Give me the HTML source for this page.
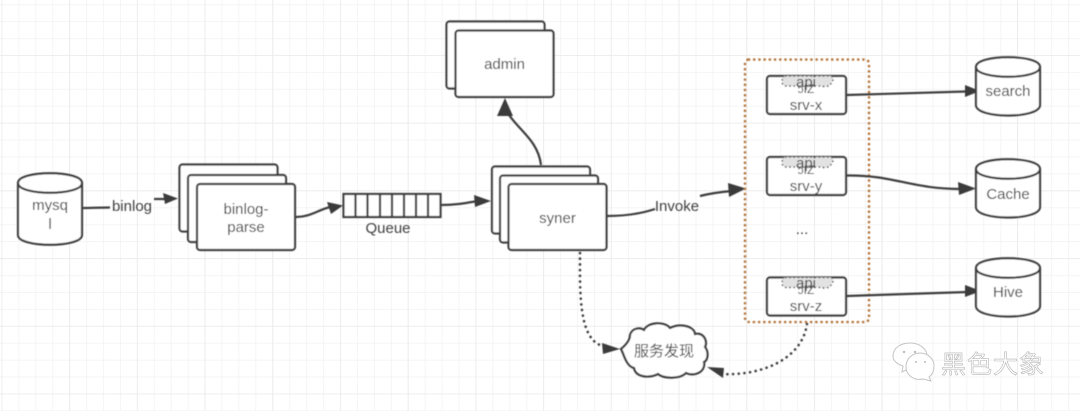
<!DOCTYPE html>
<html><head><meta charset="utf-8">
<style>
html,body{margin:0;padding:0;background:#fff;width:1080px;height:411px;overflow:hidden}
svg{display:block}
text{font-family:"Liberation Sans","Noto Sans CJK SC",sans-serif;font-size:15px;fill:#404040;text-anchor:middle}
.b{fill:#fff;stroke:#3c3c3c;stroke-width:2.2}
.l{fill:none;stroke:#3c3c3c;stroke-width:2.2}
.d{fill:none;stroke:#3c3c3c;stroke-width:2.6;stroke-linecap:round;stroke-dasharray:0.1 5.6}
.a{fill:#3a3a3a}
.c{fill:#e2e2e2;stroke:#555;stroke-width:1.6;stroke-dasharray:1.6 2.6}
</style></head><body>
<svg width="1080" height="411" viewBox="0 0 1080 411" xmlns="http://www.w3.org/2000/svg">
<defs>
<pattern id="g1" x="1.5" y="4.2" width="16.93" height="16.93" patternUnits="userSpaceOnUse">
<path d="M0 0V16.93M0 0H16.93" stroke="#f2f2f2" stroke-width="1.5" fill="none"/>
</pattern>
<pattern id="g2" x="1.5" y="55" width="67.7" height="67.7" patternUnits="userSpaceOnUse">
<path d="M0 0V67.7M0 0H67.7" stroke="#ebebeb" stroke-width="1.6" fill="none"/>
</pattern>
<filter id="s" x="-2%" y="-2%" width="104%" height="104%"><feGaussianBlur stdDeviation="0.45"/></filter>
</defs>
<rect width="1080" height="411" fill="#fff"/>
<rect width="1080" height="411" fill="url(#g1)"/>
<rect width="1080" height="411" fill="url(#g2)"/>
<g filter="url(#s)">

<!-- mysql -->
<path class="b" d="M18 183C18 170 82 170 82 183V235C82 248 18 248 18 235Z"/>
<path class="l" d="M18 183C18 196 82 196 82 183"/>
<text x="50" y="210">mysq</text><text x="50" y="229">l</text>
<path class="l" d="M83 208C92 208 100 207.500 110 207.500"/>
<text x="132" y="211">binlog</text>
<path class="l" d="M154 199H165"/><polygon class="a" points="178,198.500 163,193 165,204"/>

<!-- binlog stack -->
<rect class="b" x="179.500" y="164.500" width="98" height="67" rx="3"/>
<rect class="b" x="188" y="175" width="98" height="67" rx="3"/>
<rect class="b" x="197" y="184" width="98" height="66" rx="3"/>
<text x="246" y="214">binlog-</text><text x="246" y="232">parse</text>
<path class="l" d="M296 217C310 217 318 210 330 207"/><polygon class="a" points="343,205.500 327,202 331,214"/>

<!-- Queue -->
<rect class="b" x="343.500" y="194" width="97" height="23"/>
<path class="l" d="M355.500 194V217M367.500 194V217M380 194V217M392 194V217M404 194V217M416 194V217M428 194V217"/>
<text x="388" y="233">Queue</text>
<path class="l" d="M441 205C456 205 466 203 478 201"/><polygon class="a" points="491,201 474,195 475,207"/>

<!-- syner stack -->
<rect class="b" x="492" y="166.500" width="98" height="67" rx="3"/>
<rect class="b" x="500" y="175.500" width="98" height="67" rx="3"/>
<rect class="b" x="508.500" y="184" width="98" height="66" rx="3"/>
<text x="557.500" y="223">syner</text>

<!-- admin -->
<rect class="b" x="446.500" y="21.500" width="98" height="67" rx="3"/>
<rect class="b" x="455.500" y="30.500" width="98" height="66.500" rx="3"/>
<text x="504.500" y="69">admin</text>
<path class="l" d="M541 165C538 140 518 130 507 112"/><polygon class="a" points="505,98 497,116 513,116"/>

<!-- invoke -->
<path class="l" d="M607 216C625 216 640 214 655 209"/>
<text x="677" y="211">Invoke</text>
<path class="l" d="M700 196C712 193 720 192 732 191"/><polygon class="a" points="746,188.500 728,183 729,197"/>

<!-- srv boxes -->
<rect class="b" x="767" y="76" width="79" height="38" rx="3"/>
<rect class="b" x="767" y="157" width="79" height="38" rx="3"/>
<rect class="b" x="767" y="277.500" width="79" height="38" rx="3"/>
<g>
<path class="c" d="M785 76H830C834 76 834 81 831 82C832 87 824 87 820 86H790C783 87 781 83 783 81C781 79 782 76 785 76Z"/>
<path class="c" d="M785 157H830C834 157 834 162 831 163C832 168 824 168 820 167H790C783 168 781 164 783 162C781 160 782 157 785 157Z"/>
<path class="c" d="M785 277.500H830C834 277.500 834 282.500 831 283.500C832 288.500 824 288.500 820 287.500H790C783 288.500 781 284.500 783 282.500C781 280.500 782 277.500 785 277.500Z"/>
</g>
<text x="806" y="87">api</text><text x="806" y="93" style="font-size:12px">ɔIZ</text><text x="806" y="110">srv-x</text>
<text x="806" y="168">api</text><text x="806" y="174" style="font-size:12px">ɔIZ</text><text x="806" y="191">srv-y</text>
<text x="806" y="288">api</text><text x="806" y="294" style="font-size:12px">ɔIZ</text><text x="806" y="311">srv-z</text>
<text x="802" y="234">...</text>

<!-- orange dotted box -->
<rect x="745" y="59.500" width="124" height="262.500" rx="4" fill="none" stroke="#b5763c" stroke-width="2.6" stroke-linecap="round" stroke-dasharray="0.1 5.1"/>

<!-- outgoing arrows -->
<path class="l" d="M847 95L966 91.500"/><polygon class="a" points="980,91 965,85 965,97"/>
<path class="l" d="M847 175.500C895 175 910 189 962 189"/><polygon class="a" points="976,188.500 958,182 959,195"/>
<path class="l" d="M847 296L968 292"/><polygon class="a" points="981,291 965,285 965,297"/>

<!-- cylinders -->
<path class="b" d="M976 67C976 54 1040 54 1040 67V105C1040 119 976 119 976 105Z"/>
<path class="l" d="M976 67C976 80 1040 80 1040 67"/>
<text x="1008" y="96">search</text>
<path class="b" d="M976 169C976 156 1040 156 1040 169V207C1040 221 976 221 976 207Z"/>
<path class="l" d="M976 169C976 182 1040 182 1040 169"/>
<text x="1008" y="199">Cache</text>
<path class="b" d="M976 268C976 255 1040 255 1040 268V306C1040 320 976 320 976 306Z"/>
<path class="l" d="M976 268C976 281 1040 281 1040 268"/>
<text x="1008" y="297">Hive</text>

<!-- cloud -->
<path class="b" d="M621 349C626 345 630 340 630 335C632 328 640 327 644 330C648 322 664 321 670 328C680 323 694 326 695 334C704 332 708 342 705 347C709 352 708 360 704 362C706 372 694 377 686 373C680 379 664 379 658 374C650 378 636 378 634 368C626 366 624 354 621 349Z"/>
<text x="664" y="356">服务发现</text>

<!-- dotted connectors -->
<path class="d" d="M580 253C580 290 578 340 603 346"/><polygon class="a" points="620,349 602,343 603,354"/>
<path class="d" d="M807 324C802 360 760 376 722 374"/><polygon class="a" points="707,367 724,368 723,378"/>
</g>

<!-- watermark -->
<g fill="#fff" stroke="#c4c4c4" stroke-width="1">
<path d="M893 356C893 347 902 343 910 343C920 343 927 349 927 356C927 364 918 369 910 368L902 372L903 366C897 364 893 361 893 356Z"/>
<path d="M906 367C906 358 913 353 920 353C928 353 934 359 934 366C934 371 932 375 929 377L931 381L923 379C914 381 906 375 906 367Z"/>
</g>
<g fill="#bbb"><circle cx="904" cy="352" r="1.200"/><circle cx="915" cy="352" r="1.200"/><circle cx="916" cy="362" r="1"/><circle cx="925" cy="362" r="1"/></g>
<text x="993" y="373" style="font-size:25px;fill:#fff;stroke:#b5b5b5;stroke-width:.6;letter-spacing:1px">黑色大象</text>
</svg>
</body></html>
